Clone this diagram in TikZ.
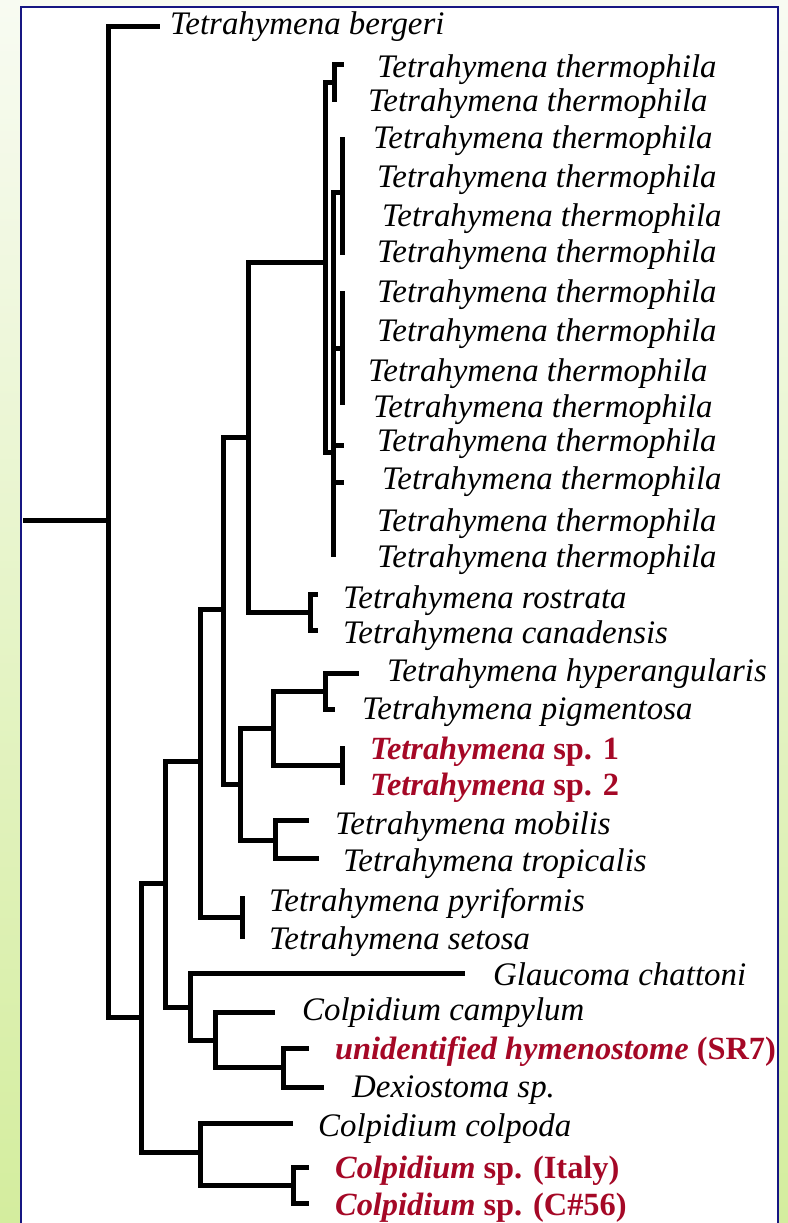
\documentclass[tikz,border=0pt]{standalone}
\usepackage{fontspec}
\setmainfont{Liberation Serif}
\definecolor{darkred}{RGB}{165,8,38}
\definecolor{navy}{RGB}{22,22,130}
\definecolor{bgtop}{RGB}{248,251,242}
\definecolor{bgbot}{RGB}{212,237,158}
\begin{document}
\begin{tikzpicture}[x=1bp,y=-1bp,
  br/.style={line width=5bp, line join=miter, line cap=rect},
  lab/.style={anchor=base west, inner sep=0pt, yshift=-3bp, font=\fontsize{33}{36}\selectfont\itshape},
  redlab/.style={anchor=base west, inner sep=0pt, yshift=-3bp, text=darkred, font=\fontsize{32.5}{36}\selectfont\bfseries},
]
\useasboundingbox (0,0) rectangle (788,1223);
\shade[top color=bgtop, bottom color=bgbot] (0,0) rectangle (788,1223);
\fill[white] (21,7) rectangle (778,1223);
\draw[navy, line width=2.6bp] (21,1224) -- (21,7) -- (778,7) -- (778,1224);

% ---- tree coordinates ----
\coordinate (rootstem) at (25,520);
\coordinate (root) at (108,520);
\coordinate (tberg) at (157,26);
\coordinate (nA) at (141,1017);
\coordinate (nB) at (165,883);
\coordinate (nC) at (200,1152);
\coordinate (tcolp) at (290,1123);
\coordinate (nD) at (293,1185);
\coordinate (tital) at (306,1167);
\coordinate (tc56) at (306,1203);
\coordinate (nE) at (200,761);
\coordinate (nK) at (190,1007);
\coordinate (tglau) at (462,973);
\coordinate (nL) at (215,1040);
\coordinate (tcamp) at (272,1012);
\coordinate (nM) at (283,1067);
\coordinate (tunid) at (306,1048);
\coordinate (tdex) at (321,1087);
\coordinate (nF) at (223,609);
\coordinate (nP) at (242,917);
\coordinate (tpyr) at (242,898);
\coordinate (tset) at (242,936);
\coordinate (nG0) at (248,437);
\coordinate (nG) at (240,784);
\coordinate (nT) at (325,262);
\coordinate (nR) at (310,612);
\coordinate (tros) at (315,594);
\coordinate (tcan) at (315,630);
\coordinate (nH) at (273,728);
\coordinate (nI) at (275,840);
\coordinate (tmob) at (306,820);
\coordinate (ttro) at (316,858);
\coordinate (nJ) at (325,691);
\coordinate (thyp) at (356,673);
\coordinate (tpig) at (332,709);
\coordinate (nS) at (342,765);
\coordinate (tsp1) at (342,748);
\coordinate (tsp2) at (342,782);
% thermophila clade
\coordinate (nT1) at (334,82);
\coordinate (tt1) at (341,64);
\coordinate (tt2) at (334,99);
\coordinate (nT2) at (333,452);
\coordinate (nT3) at (342,192);
\coordinate (tt3) at (342,139);
\coordinate (tt6) at (342,252);
\coordinate (nT4) at (342,348);
\coordinate (tt7) at (342,293);
\coordinate (tt10) at (342,402);
\coordinate (tt11) at (341,445);
\coordinate (tt12) at (341,482);
\coordinate (tt14) at (333,554);

% ---- branches ----
\draw[br] (rootstem) -- (root);
\draw[br] (root) |- (tberg);
\draw[br] (root) |- (nA);
\draw[br] (nA) |- (nB);
\draw[br] (nA) |- (nC);
\draw[br] (nC) |- (tcolp);
\draw[br] (nC) |- (nD);
\draw[br] (nD) |- (tital);
\draw[br] (nD) |- (tc56);
\draw[br] (nB) |- (nE);
\draw[br] (nB) |- (nK);
\draw[br] (nK) |- (tglau);
\draw[br] (nK) |- (nL);
\draw[br] (nL) |- (tcamp);
\draw[br] (nL) |- (nM);
\draw[br] (nM) |- (tunid);
\draw[br] (nM) |- (tdex);
\draw[br] (nE) |- (nF);
\draw[br] (nE) |- (nP);
\draw[br] (tpyr) -- (tset);
\draw[br] (nF) |- (nG0);
\draw[br] (nF) |- (nG);
\draw[br] (nG0) |- (nT);
\draw[br] (nG0) |- (nR);
\draw[br] (nR) |- (tros);
\draw[br] (nR) |- (tcan);
\draw[br] (nG) |- (nH);
\draw[br] (nG) |- (nI);
\draw[br] (nH) |- (nJ);
\draw[br] (nJ) |- (thyp);
\draw[br] (nJ) |- (tpig);
\draw[br] (nH) |- (nS);
\draw[br] (tsp1) -- (tsp2);
\draw[br] (nI) |- (tmob);
\draw[br] (nI) |- (ttro);
\draw[br] (nT) |- (nT1);
\draw[br] (nT) |- (nT2);
\draw[br] (nT1) |- (tt1);
\draw[br] (nT1) -- (tt2);
\draw[br] (nT2) |- (nT3);
\draw[br] (tt3) -- (tt6);
\draw[br] (nT2) |- (nT4);
\draw[br] (tt7) -- (tt10);
\draw[br] (nT2) |- (tt11);
\draw[br] (nT2) |- (tt12);
\draw[br] (nT2) -- (tt14);

% ---- labels ----
\node[lab] (lberg) at (170,31) {Tetrahymena bergeri};
\node[lab] (th1) at (377,74) {Tetrahymena thermophila};
\node[lab] (th2) at (368,108) {Tetrahymena thermophila};
\node[lab] (th3) at (373,145) {Tetrahymena thermophila};
\node[lab] (th4) at (377,184) {Tetrahymena thermophila};
\node[lab] (th5) at (382,223) {Tetrahymena thermophila};
\node[lab] (th6) at (377,259) {Tetrahymena thermophila};
\node[lab] (th7) at (377,299) {Tetrahymena thermophila};
\node[lab] (th8) at (377,338) {Tetrahymena thermophila};
\node[lab] (th9) at (368,378) {Tetrahymena thermophila};
\node[lab] (th10) at (373,414) {Tetrahymena thermophila};
\node[lab] (th11) at (377,448) {Tetrahymena thermophila};
\node[lab] (th12) at (382,486) {Tetrahymena thermophila};
\node[lab] (th13) at (377,528) {Tetrahymena thermophila};
\node[lab] (th14) at (377,564) {Tetrahymena thermophila};
\node[lab] (lros) at (343,605) {Tetrahymena rostrata};
\node[lab] (lcan) at (343,640) {Tetrahymena canadensis};
\node[lab] (lhyp) at (387,678) {Tetrahymena hyperangularis};
\node[lab] (lpig) at (362,716) {Tetrahymena pigmentosa};
\node[redlab] (lsp1) at (370,756) {\itshape Tetrahymena\upshape\ sp. 1};
\node[redlab] (lsp2) at (370,792) {\itshape Tetrahymena\upshape\ sp. 2};
\node[lab] (lmob) at (335,831) {Tetrahymena mobilis};
\node[lab] (ltro) at (343,868) {Tetrahymena tropicalis};
\node[lab] (lpyr) at (269,908) {Tetrahymena pyriformis};
\node[lab] (lset) at (269,946) {Tetrahymena setosa};
\node[lab] (lglau) at (493,982) {Glaucoma chattoni};
\node[lab] (lcamp) at (302,1017) {Colpidium campylum};
\node[redlab] (lunid) at (335,1056) {\itshape unidentified hymenostome\upshape\ (SR7)};
\node[lab] (ldex) at (352,1094) {Dexiostoma sp.};
\node[lab] (lcolp) at (318,1133) {Colpidium colpoda};
\node[redlab] (lital) at (335,1175) {\itshape Colpidium\upshape\ sp. (Italy)};
\node[redlab] (lc56) at (335,1212) {\itshape Colpidium\upshape\ sp. (C\#56)};
\end{tikzpicture}
\end{document}
